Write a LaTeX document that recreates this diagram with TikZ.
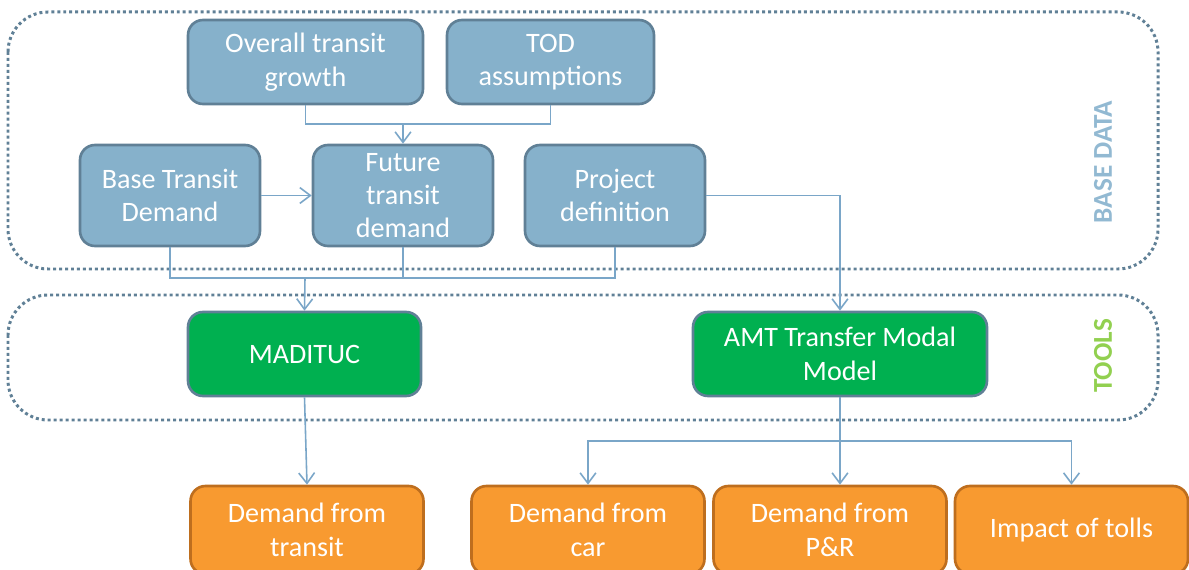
\documentclass[tikz,border=0pt]{standalone}
\usepackage{fontspec}
\setmainfont{Carlito}
\usepackage{xcolor}
\usepackage{tikz}
\usetikzlibrary{arrows.meta}
\usetikzlibrary{positioning}
\usetikzlibrary{calc}

\definecolor{boxblue}{RGB}{134,177,203}
\definecolor{boxedge}{RGB}{96,128,150}
\definecolor{toolgreen}{RGB}{0,176,80}
\definecolor{outorange}{RGB}{248,154,48}
\definecolor{outedge}{RGB}{190,110,30}
\definecolor{linkblue}{RGB}{122,166,200}
\definecolor{labelblue}{RGB}{146,185,210}
\definecolor{labelgreen}{RGB}{146,208,80}

\tikzset{
  box/.style={rectangle,rounded corners=0.3cm,line width=1.5pt,draw=boxedge,
    text=white,align=center,font=\fontsize{16}{19}\selectfont,inner sep=2pt},
  inbox/.style={box,fill=boxblue},
  toolbox/.style={box,fill=toolgreen},
  outbox/.style={box,fill=outorange,draw=outedge},
  group/.style={draw=boxedge,line width=1.7pt,dash pattern=on 1.7pt off 1.7pt,rounded corners=0.8cm},
  grouplabel/.style={rotate=90,font=\fontsize{15.5}{18}\selectfont\bfseries}
}

\begin{document}
\begin{tikzpicture}[x=0.02cm,y=-0.02cm]
      \useasboundingbox (0,0) rectangle (1189,570);
      % dotted groups
      \draw[group] (8,12) rectangle (1158,269);
      \draw[group] (8,295) rectangle (1158,420);
      \node[grouplabel,text=labelblue] (basedata) at (1103,162) {BASE DATA};
      \node[grouplabel,text=labelgreen] (tools) at (1103,356) {TOOLS};

      \begin{scope}[every node/.style={inbox}]
        \node[minimum width=4.7cm,minimum height=1.68cm] (growth) at (305.5,62) {Overall transit\\growth};
        \node[minimum width=4.14cm,minimum height=1.68cm] (tod) at (550.5,62) {TOD\\assumptions};
        \node[minimum width=3.6cm,minimum height=2.02cm] (base) at (170,195.5) {Base Transit\\Demand};
        \node[minimum width=3.6cm,minimum height=2.02cm] (future) at (403,195.5) {Future\\transit\\demand};
        \node[minimum width=3.6cm,minimum height=2.02cm] (project) at (615,195.5) {Project\\definition};
      \end{scope}
      \begin{scope}[every node/.style={toolbox}]
        \node[minimum width=4.66cm,minimum height=1.68cm] (madituc) at (304.5,354) {MADITUC};
        \node[minimum width=5.88cm,minimum height=1.68cm] (amt) at (840,354) {AMT Transfer Modal\\Model};
      \end{scope}
      \begin{scope}[every node/.style={outbox,minimum width=4.66cm,minimum height=1.76cm}]
        \node (dtransit) at (307,530) {Demand from\\transit};
        \node (dcar) at (588,530) {Demand from\\car};
        \node (dpr) at (830,530) {Demand from\\P\&R};
        \node (tolls) at (1071.5,530) {Impact of tolls};
      \end{scope}

      \coordinate (j1) at (403,124);
      \coordinate (j2) at (305,278);
      \coordinate (j3) at (840,441);
      \begin{scope}[every edge/.style={draw=linkblue,line width=0.9pt,-{Straight Barb[length=6pt,width=9pt]}}]
        \draw[draw=linkblue,line width=0.9pt] (growth.south) |- (j1) -| (tod.south);
        \path (j1) edge (future.north);
        \path (base) edge (future);
        \draw[draw=linkblue,line width=0.9pt] (base.south) |- (j2) -| (project.south);
        \draw[draw=linkblue,line width=0.9pt] (future.south) -- (future.south |- j2);
        \path (j2) edge (madituc.north);
        \path (project.east) edge[to path={-| (\tikztotarget)}] (amt.north);
        \path (madituc.south) edge (dtransit.north);
        \path (amt.south) edge (amt.south |- dpr.north);
        \path (j3) edge[to path={-| (\tikztotarget)}] (dcar.north);
        \path (j3) edge[to path={-| (\tikztotarget)}] (tolls.north);
      \end{scope}
    \end{tikzpicture}
\end{document}
